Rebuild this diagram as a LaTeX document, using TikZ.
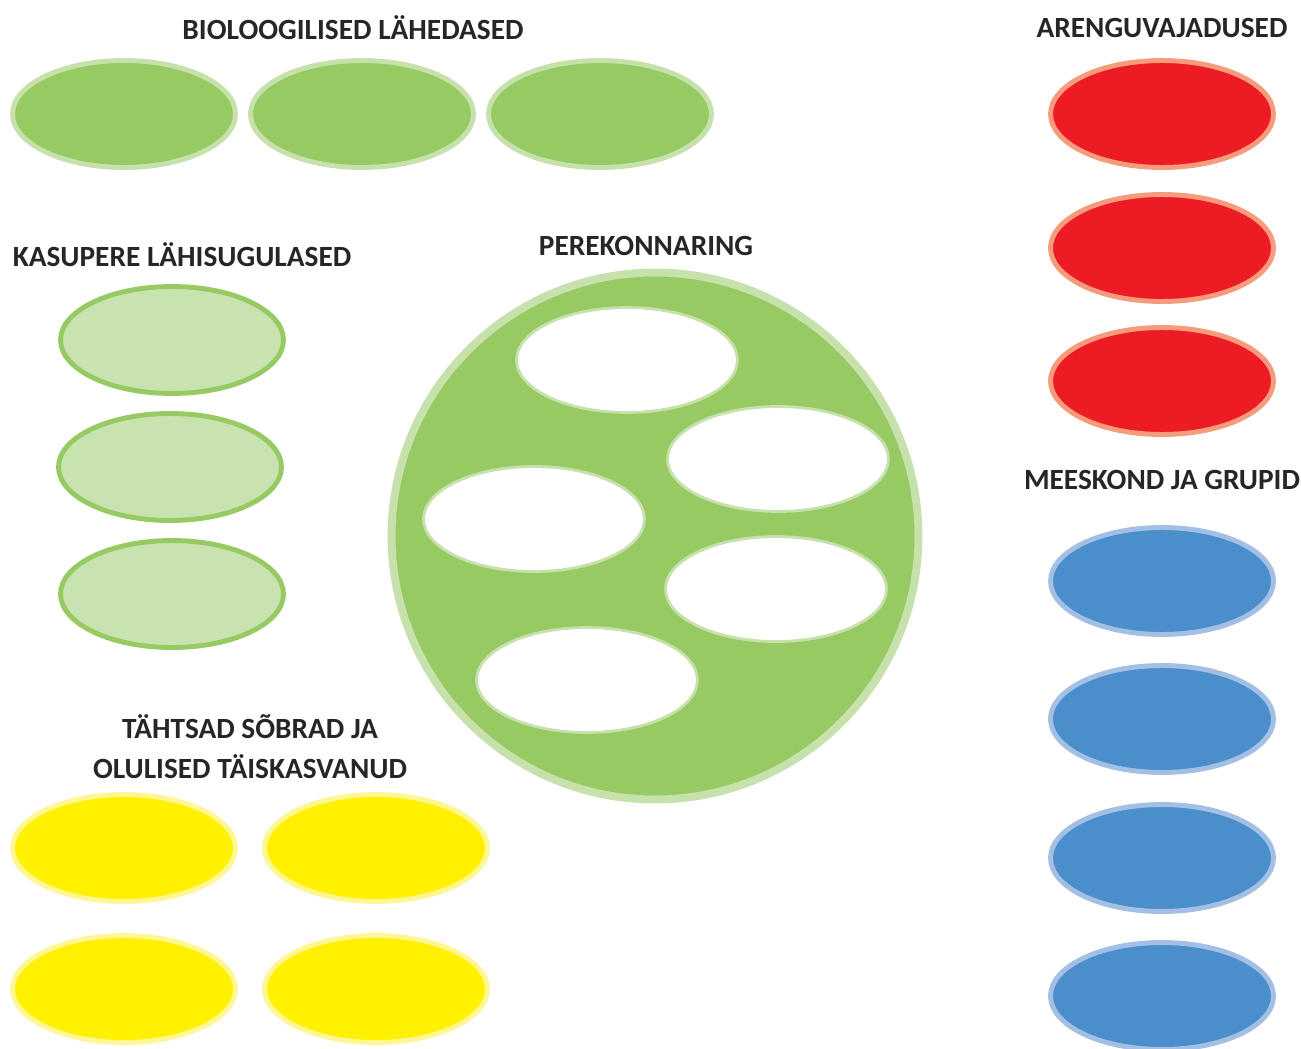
\documentclass[tikz,border=0pt]{standalone}
\usepackage{fontspec}
\setmainfont{Carlito}
\usetikzlibrary{shapes.geometric}
\definecolor{lehtroh}{RGB}{152,202,99}
\definecolor{heleroh}{RGB}{198,225,171}
\definecolor{kahvroh}{RGB}{200,226,176}
\definecolor{punane}{RGB}{237,28,36}
\definecolor{lohe}{RGB}{246,155,124}
\definecolor{sinine}{RGB}{74,143,204}
\definecolor{helesin}{RGB}{163,191,227}
\definecolor{kollane}{RGB}{255,241,0}
\definecolor{helekol}{RGB}{255,246,150}
\tikzset{
  pill/.style={ellipse,inner sep=0pt,minimum width=4.46cm,minimum height=2.14cm,line width=2.8pt},
  bio/.style={pill,fill=lehtroh,draw=heleroh},
  kasu/.style={pill,fill=kahvroh,draw=lehtroh},
  areng/.style={pill,fill=punane,draw=lohe},
  grupp/.style={pill,fill=sinine,draw=helesin},
  sober/.style={pill,fill=kollane,draw=helekol},
  tyhi/.style={ellipse,inner sep=0pt,minimum width=4.42cm,minimum height=2.1cm,fill=white,draw=heleroh,line width=1.6pt},
  pealkiri/.style={font=\bfseries\fontsize{16.7}{22.6}\selectfont,text=black!85,align=center}
}
\begin{document}
\begin{tikzpicture}[x=0.02cm,y=-0.02cm]
	\useasboundingbox (0,0) rectangle (1301,1048);
	
	% pealkirjad
	\node[pealkiri] (tbio) at (353,28) {BIOLOOGILISED LÄHEDASED};
	\node[pealkiri] (tkasu) at (182,255) {KASUPERE LÄHISUGULASED};
	\node[pealkiri] (tpere) at (646,246) {PEREKONNARING};
	\node[pealkiri] (tareng) at (1162,28) {ARENGUVAJADUSED};
	\node[pealkiri] (tgrupp) at (1162,480) {MEESKOND JA GRUPID};
	\node[pealkiri] (tsober) at (250,747) {TÄHTSAD SÕBRAD JA\\OLULISED TÄISKASVANUD};
	
	% perekonnaring
	\node[circle,inner sep=0pt,minimum size=10.54cm,fill=lehtroh,draw=heleroh,line width=4.5pt] (ring) at (655,536) {};
	\node[tyhi] (p1) at (627,360) {};
	\node[tyhi] (p2) at (778,459) {};
	\node[tyhi] (p3) at (534,519) {};
	\node[tyhi] (p4) at (776,589) {};
	\node[tyhi] (p5) at (587,680) {};
	
	% ovaalid
	\foreach \x [count=\i] in {124,362,600}
		\node[bio] (bio\i) at (\x,114) {};
	\foreach \y/\x [count=\i] in {340/172,467/170,594/172}
		\node[kasu] (kasu\i) at (\x,\y) {};
	\foreach \y [count=\i] in {114,248,381}
		\node[areng] (areng\i) at (1162,\y) {};
	\foreach \y [count=\i] in {581,719,858,996}
		\node[grupp] (grupp\i) at (1162,\y) {};
	\node[sober] (sober1) at (124,848) {};
	\node[sober] (sober2) at (376,848) {};
	\node[sober] (sober3) at (124,989) {};
	\node[sober] (sober4) at (376,989) {};
\end{tikzpicture}
\end{document}
